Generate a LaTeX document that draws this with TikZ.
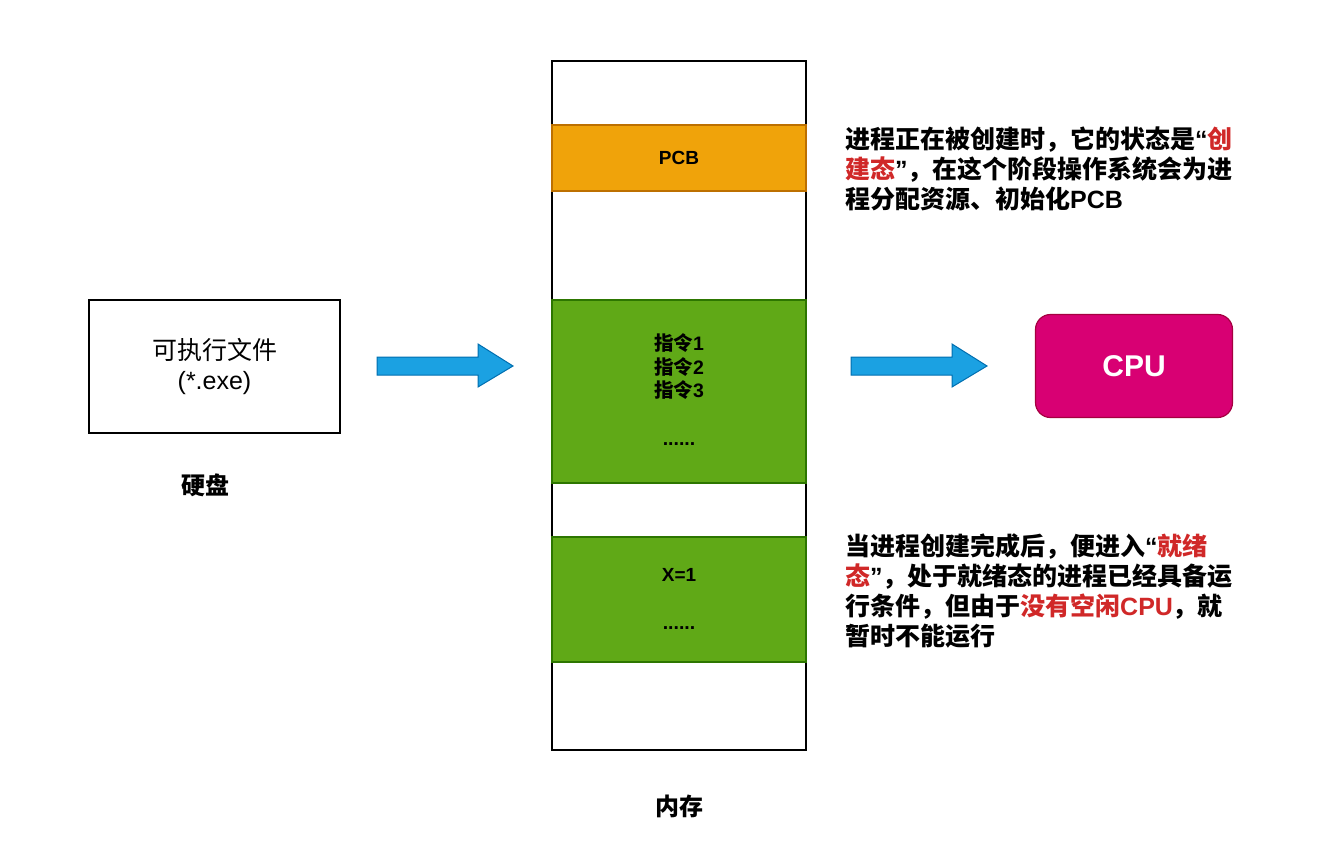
\documentclass[tikz,border=0pt]{standalone}
\usepackage{fontspec}
\setmainfont{Liberation Sans}
\newfontfamily\cjk{Noto Sans CJK SC}
\newfontfamily\latin{Liberation Sans}
\definecolor{pcborange}{HTML}{F0A30A}
\definecolor{pcbline}{HTML}{BD7000}
\definecolor{codegreen}{HTML}{60A917}
\definecolor{codeline}{HTML}{2D7600}
\definecolor{cpumagenta}{HTML}{D80073}
\definecolor{cpuline}{HTML}{A50040}
\definecolor{flowblue}{HTML}{1BA1E2}
\definecolor{flowline}{HTML}{006EAF}
\definecolor{notered}{HTML}{D02828}
\usetikzlibrary{positioning}
\newcommand{\lat}[1]{{\latin #1}}
\newcommand{\hl}[1]{\textcolor{notered}{#1}}
\tikzset{
  memband/.style={draw, line width=1.2pt, minimum width=254pt, inner sep=0pt},
  bandtext/.style={align=center, font=\cjk\bfseries\fontsize{19.5}{23.5}\selectfont},
  notetext/.style={anchor=north west, align=left, inner sep=0pt, font=\cjk\bfseries\fontsize{25}{30}\selectfont},
  caption/.style={font=\cjk\bfseries\fontsize{24}{28}\selectfont}
}

\begin{document}
\begin{tikzpicture}[x=1pt, y=-1pt]
  \useasboundingbox (0,0) rectangle (1327,856);

  % Executable on disk
  \node[draw, line width=1.2pt, minimum width=251pt, minimum height=133pt, align=center, font=\fontsize{25}{30}\selectfont] (exefile) at (214.5,366.5) {{\cjk 可执行文件}\\(*.exe)};
  \node[caption] (disk) at (205,485) {硬盘};

  % Memory column
  \node[memband, minimum height=689pt] (memcol) at (679,405.5) {};
  \node[memband, fill=pcborange, draw=pcbline, minimum height=66pt, font=\bfseries\fontsize{19}{23}\selectfont] (pcb) at (679,158) {PCB};
  \node[memband, fill=codegreen, draw=codeline, minimum height=183pt] (codeblock) at (679,391.5) {};
  \node[memband, fill=codegreen, draw=codeline, minimum height=125pt] (datablock) at (679,599.5) {};
  \node[bandtext] (instr) at (679,367) {指令\lat{1}\\指令\lat{2}\\指令\lat{3}};
  \node[bandtext, anchor=base] (instrdots) at (679,445) {\lat{......}};
  \node[bandtext, font=\bfseries\fontsize{19}{23}\selectfont] (xvar) at (679,575) {X=1};
  \node[bandtext, anchor=base] (datadots) at (679,629) {\lat{......}};
  \node[caption] (mem) at (679,806) {内存};

  % CPU
  \node[draw=cpuline, fill=cpumagenta, line width=1.2pt, rounded corners=15pt, minimum width=197pt, minimum height=103pt, text=white, font=\bfseries\fontsize{30}{34}\selectfont] (cpu) at (1134,366) {CPU};

  % Block arrows
  \foreach \sx in {0,474} {
    \draw[fill=flowblue, draw=flowline, line width=1pt, shift={(\sx,0)}] (377,357) -- (478,357) -- (478,344) -- (513,366) -- (478,387) -- (478,375) -- (377,375) -- cycle;
  }

  % State notes
  \node[notetext] (createnote) at (845,127) {进程正在被创建时，它的状态是\lat{“}\hl{创}\\\hl{建态}\lat{”}，在这个阶段操作系统会为进\\程分配资源、初始化\lat{PCB}};
  \node[notetext] (readynote) at (845,533) {当进程创建完成后，便进入\lat{“}\hl{就绪}\\\hl{态}\lat{”}，处于就绪态的进程已经具备运\\行条件，但由于\hl{没有空闲\lat{CPU}}，就\\暂时不能运行};
\end{tikzpicture}
\end{document}
